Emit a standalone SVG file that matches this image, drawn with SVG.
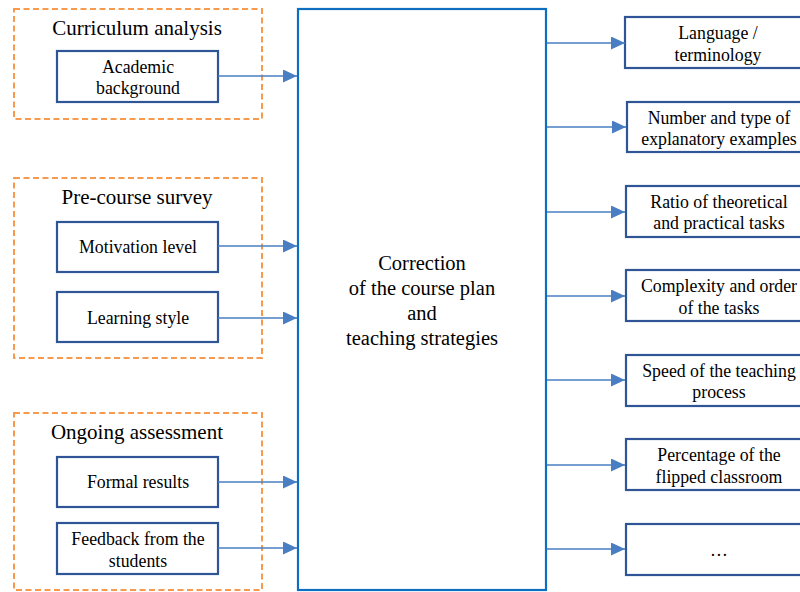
<svg xmlns="http://www.w3.org/2000/svg" width="800" height="592" viewBox="0 0 800 592">
<style>
text{font-family:"Liberation Serif",serif;fill:#000;text-anchor:middle}
.grp{fill:none;stroke:#F79A4D;stroke-width:2;stroke-dasharray:6,3.5}
.box{fill:#fff;stroke:#2F5597;stroke-width:2.2}
.main{fill:#fff;stroke:#0E6FC1;stroke-width:2.2}
.t{font-size:17.8px}
.h{font-size:21px}
.c{font-size:20.5px}
.ar{stroke:#4A7EC2;stroke-width:1.3;fill:none;marker-end:url(#ah)}
</style>
<defs>
<marker id="ah" viewBox="0 0 14 13" refX="14" refY="6.5" markerWidth="14" markerHeight="13" markerUnits="userSpaceOnUse" orient="auto">
<path d="M0,0 L14,6.5 L0,13 z" fill="#4A7EC2"/>
</marker>
</defs>
<g id="curriculum-analysis">
<rect class="grp" x="14" y="9" width="248" height="110"/>
<text class="h" x="137" y="35">Curriculum analysis</text>
</g>
<g id="academic-background">
<rect class="box" x="57" y="51" width="161" height="51"/>
<text class="t" x="138" y="73">Academic</text>
<text class="t" x="138" y="94">background</text>
</g>
<g id="pre-course-survey">
<rect class="grp" x="14" y="178" width="248" height="180"/>
<text class="h" x="137" y="204">Pre-course survey</text>
</g>
<g id="motivation-level">
<rect class="box" x="57" y="222" width="161" height="50"/>
<text class="t" x="138" y="253">Motivation level</text>
</g>
<g id="learning-style">
<rect class="box" x="57" y="292" width="161" height="50"/>
<text class="t" x="138" y="324">Learning style</text>
</g>
<g id="ongoing-assessment">
<rect class="grp" x="14" y="413" width="248" height="177"/>
<text class="h" x="137" y="439">Ongoing assessment</text>
</g>
<g id="formal-results">
<rect class="box" x="57" y="457" width="161" height="50"/>
<text class="t" x="138" y="488">Formal results</text>
</g>
<g id="feedback">
<rect class="box" x="57" y="523" width="161" height="51"/>
<text class="t" x="138" y="545">Feedback from the</text>
<text class="t" x="138" y="567">students</text>
</g>
<g id="correction">
<rect class="main" x="298" y="9" width="248" height="581"/>
<text class="c" x="422" y="270">Correction</text>
<text class="c" x="422" y="295">of the course plan</text>
<text class="c" x="422" y="320">and</text>
<text class="c" x="422" y="345">teaching strategies</text>
</g>
<g id="language">
<rect class="box" x="625" y="17" width="190" height="51"/>
<text class="t" x="718" y="39">Language /</text>
<text class="t" x="718" y="61">terminology</text>
</g>
<g id="examples">
<rect class="box" x="627" y="102" width="190" height="50"/>
<text class="t" x="719" y="124">Number and type of</text>
<text class="t" x="719" y="145">explanatory examples</text>
</g>
<g id="ratio">
<rect class="box" x="626" y="186" width="190" height="51"/>
<text class="t" x="719" y="208">Ratio of theoretical</text>
<text class="t" x="719" y="229">and practical tasks</text>
</g>
<g id="complexity">
<rect class="box" x="626" y="270" width="190" height="51"/>
<text class="t" x="719" y="292">Complexity and order</text>
<text class="t" x="719" y="314">of the tasks</text>
</g>
<g id="speed">
<rect class="box" x="626" y="355" width="190" height="51"/>
<text class="t" x="719" y="377">Speed of the teaching</text>
<text class="t" x="719" y="398">process</text>
</g>
<g id="flipped">
<rect class="box" x="626" y="439" width="190" height="51"/>
<text class="t" x="719" y="461">Percentage of the</text>
<text class="t" x="719" y="483">flipped classroom</text>
</g>
<g id="etc">
<rect class="box" x="626" y="524" width="190" height="51"/>
<text class="t" x="719" y="556">…</text>
</g>
<g id="connectors">
<line class="ar" x1="218" y1="76" x2="297" y2="76"/>
<line class="ar" x1="218" y1="246" x2="297" y2="246"/>
<line class="ar" x1="218" y1="318" x2="297" y2="318"/>
<line class="ar" x1="218" y1="482" x2="297" y2="482"/>
<line class="ar" x1="218" y1="548" x2="297" y2="548"/>
<line class="ar" x1="547" y1="43" x2="625" y2="43"/>
<line class="ar" x1="547" y1="127" x2="626" y2="127"/>
<line class="ar" x1="547" y1="212" x2="625" y2="212"/>
<line class="ar" x1="547" y1="296" x2="625" y2="296"/>
<line class="ar" x1="547" y1="380" x2="625" y2="380"/>
<line class="ar" x1="547" y1="465" x2="625" y2="465"/>
<line class="ar" x1="547" y1="549" x2="625" y2="549"/>
</g>
</svg>
